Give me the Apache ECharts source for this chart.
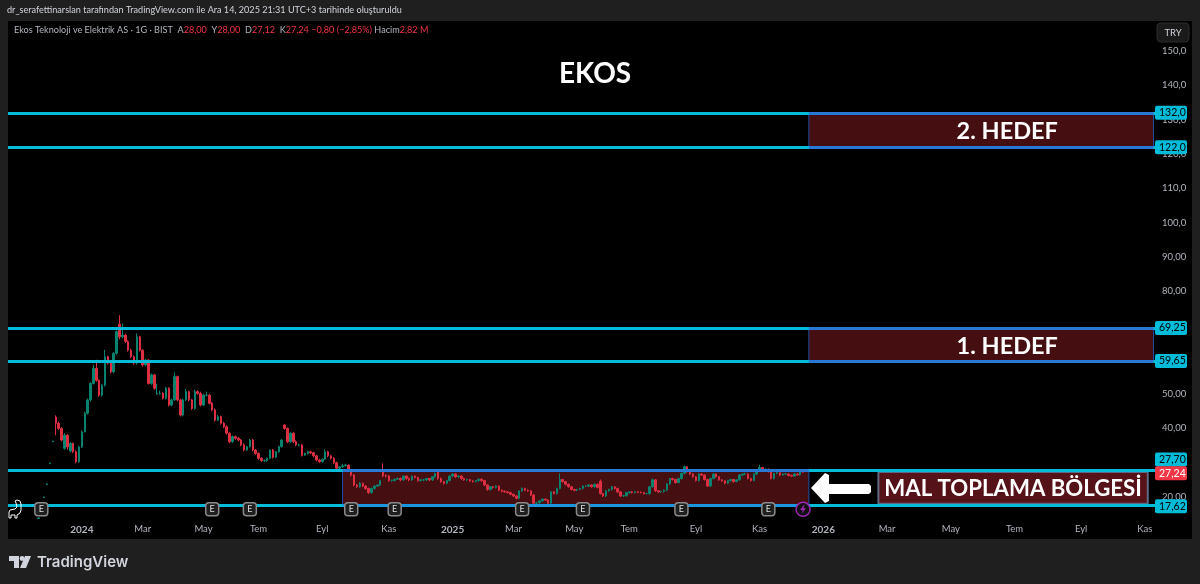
<!DOCTYPE html>
<html><head><meta charset="utf-8">
<style>html,body{margin:0;padding:0;background:#1f1f1f}#c{width:1200px;height:584px}</style>
<script src="https://cdn.jsdelivr.net/npm/echarts@6/dist/echarts.min.js"></script>
</head><body><div id="c"></div>
<script>
const slotCount = 396, firstBarSlot = 10;
const closes = [13.9,17.7,20,23.8,29.9,36.3,
41.5,40,36.6,38,34.6,35.6,33.2,30.3,34.6,39,
44.4,48.3,53.1,57.5,54,49.7,52.6,60.9,59,56.5,
61.9,68.2,66.7,67.2,65.3,62.8,60.9,59,66.7,62.8,
58.5,59.9,53.1,55.6,51.7,50.2,50.2,48.8,51.7,46.8,
48.3,55.1,48.3,43.9,48.3,50.7,48.3,45.8,50.7,50.2,
46.8,49.7,49.7,47.3,45.4,42.4,43.4,41.5,40.5,38.6,
36.1,37.6,37.1,36.6,35.2,33.7,34.7,36.6,33.7,32.7,
31.3,30.6,30.6,31.3,33.7,31.6,33.2,34.7,36.6,40,
36.1,38.6,36.1,35.2,35.2,32.2,32.7,33.2,32.9,32,
30.8,30.3,31,33.2,32,31.3,30,28.4,28.8,29.1,
29.3,27.9,26.4,23.5,23,24,23.2,22.5,21.3,22.5,
23.2,23.5,24.8,26.2,26.1,24.8,24.8,25.2,25.4,25,
26.1,25.4,25,26.1,25.7,24.8,25,25,25.4,25,
25.9,26.9,25.4,24.5,24,24.8,26.1,26.7,25.9,26.1,
25.4,25,25.1,24.7,24.5,24.8,25.2,24.8,23.5,22.2,
23,22.8,23.2,22,21.7,21.5,21.3,20.8,20.3,19.6,
21.8,22.5,22,21.8,20.6,18.2,18.3,18.9,19.4,19.1,
18.2,21.5,21,22.5,25.1,24.5,23.7,23,22.2,22,
22.2,22.5,23.2,23.2,23.5,23,23.7,22.8,21,20.3,
21.8,22.2,23,22.5,21.5,20.3,20.4,21.3,21.5,21.3,
21.5,21.4,21.3,21,21,23,25,21.8,21.5,21.6,
22,23.8,25.4,25.1,24.2,25.4,26.9,28.8,27.4,26.7,
25.9,24.8,26.7,26.4,25.1,23.2,25.4,26.7,25.9,25,
24.7,24,24.8,25.1,24.5,25,26.4,26.7,26.7,25.4,
24.8,26.7,27.9,28.6,27.9,28.1,27.4,25.4,26.9,27.1,
26.4,26.7,26.7,26.3,26.1,26.7,26.5,27.6,27.24];
const opens = [13.7,17.5,19.8,23.6,29.7,36.1,
43.3,41.5,40,34.2,38,33.4,35.6,33.2,30.3,34.6,
39,44.4,48.3,53.1,57.5,54,49.7,52.6,60.9,59,
56.5,61.9,70.4,66.7,67.2,65.3,62.8,60.9,59,66.7,
62.8,58.5,59.9,53.1,55.6,50,50.2,50.2,48.8,51.7,
46.8,48.3,55.1,48.3,43.9,48.3,50.7,48.3,45.8,50.7,
50.2,46.8,49.7,49.7,47.3,45.4,42.4,43.4,41.5,40.5,
38.6,36.1,37.6,37.1,36.6,35.2,33.7,34.7,36.6,33.7,
32.7,31.3,30.6,30.6,31.3,33.7,31.6,33.2,34.7,41,
40,36.1,38.6,36.1,35.2,35.2,32.2,32.7,33.2,32.9,
32,30.8,30.3,31,33.2,32,31.3,30,28.4,28.8,
29.1,29.3,27.9,26.4,23.5,23,24,23.2,22.5,21.3,
22.5,23.2,23.5,27.3,26.2,26.1,24.8,24.8,25.2,25.4,
25,26.1,25.4,25,26.1,25.7,24.8,25,25,25.4,
25,25.9,27.4,25.4,24.5,24,24.8,26.1,26.7,25.9,
26.1,25.4,25,25.1,24.7,24.5,24.8,25.2,24.8,23.5,
22.2,23,22.8,23.2,22,21.7,21.5,21.3,20.8,20.3,
19.6,21.8,22.5,22,21.8,20.6,18.2,18.3,18.9,19.4,
19.1,18.2,21.5,21,22.5,25.1,24.5,23.7,23,22.2,
22,22.2,22.5,23.2,23.2,23.5,23,23.7,24.6,21,
20.3,21.8,22.2,23,22.5,21.5,20.3,20.4,21.3,21.5,
21.3,21.5,21.4,21.3,21,21,23,25,21.8,21.5,
21.6,22,23.8,25.4,25.1,24.2,25.4,26.9,28.8,27.4,
26.7,25.9,24.8,26.7,26.4,25.1,23.2,25.4,26.7,25.9,
25,24.7,24,24.8,25.1,24.5,25,26.4,26.7,26.7,
25.4,24.8,26.7,27.9,28.6,27.9,28.1,27.4,25.4,26.9,
27.1,26.4,26.7,26.7,26.3,26.1,26.7,26.5,28];
const highs = [14,17.8,20.1,23.9,30,36.4,
43.8,42,40.3,38.6,38.3,36,35.9,33.6,34.9,39.4,
44.8,48.7,53.4,58.5,60,54.3,52.9,62.9,61.2,59.4,
62.2,68.6,73,70.6,67.6,65.7,63.2,61.3,67.7,67,
63.1,60.3,60.2,56,55.9,53,51,50.6,52.1,52,
48.7,56.3,55.4,48.6,48.7,51.5,51,48.6,51.3,51.1,
50.7,50,50.7,50.1,47.7,45.8,43.9,43.7,41.9,40.9,
38.9,37.9,37.9,37.5,36.9,35.6,34.9,36.9,36.9,34,
33,31.6,31,31.5,33.9,34,33.4,34.9,36.9,41.2,
40.3,38.9,38.9,36.5,35.5,35.4,32.9,33.5,33.5,33.2,
32.3,31.1,31.3,33.9,33.5,32.3,31.6,30.3,28.9,29.6,
29.7,29.5,28.2,26.7,23.8,24.4,24.2,23.5,22.7,22.7,
23.4,23.7,24.9,29.8,26.6,26.4,25.1,25.4,25.7,25.7,
26.3,26.3,25.7,26.3,26.3,25.9,25.2,25.3,25.6,25.6,
26.1,27.1,27.9,25.7,24.7,24.9,26.3,26.9,26.9,26.3,
26.3,25.6,25.3,25.3,24.9,24.9,25.4,25.4,25,23.7,
23.2,23.2,23.4,23.4,22.2,21.9,21.7,21.5,21,20.5,
21.9,22.8,22.7,22.2,22,20.8,18.6,19,19.6,19.6,
19.3,21.7,21.7,22.7,26.9,25.3,24.7,23.9,23.2,22.4,
22.4,22.7,23.4,23.4,23.7,23.7,23.9,23.9,25.1,21.2,
22,22.4,23.2,23.2,22.7,21.7,20.6,21.5,21.7,21.7,
21.7,21.7,21.6,21.5,21.2,23.2,25.4,25.2,22,21.8,
22.2,24,25.6,25.6,25.3,25.6,27.1,29.2,29,27.6,
26.9,26.1,26.9,26.9,26.6,25.3,25.6,26.9,26.9,26.1,
25.2,24.9,25,25.3,25.3,25.2,26.6,26.9,27.1,26.9,
25.6,26.9,28.1,29.4,28.8,28.3,28.3,27.6,27.1,27.4,
27.3,26.9,26.9,26.9,26.5,26.9,26.9,28,28];
const lows = [13.6,17.4,19.7,23.5,29.6,36,
38,39.6,36.2,33.8,33.8,33,32.8,29.8,30,34.3,
38.8,44,47.8,52.8,53.6,49.2,49.3,52.2,58.6,56,
56.1,61.5,66,66.3,64.9,62.4,60.5,58.6,58.6,62.4,
58,58.1,52.8,52.7,51.3,49.8,49.8,48.4,48.4,46.4,
46.5,48,47.9,43.5,43.5,48,47.9,45.4,45.4,49.8,
46.4,46.5,49.3,47,45,42,42.1,41.1,40.1,38.2,
35.7,35.8,36.7,36.2,34.8,33.3,33.4,34.4,33.3,32.3,
30.9,30.2,30.2,30.3,31,31.2,31.3,32.9,34.4,39.6,
35.7,35.8,35.7,34.8,34.8,31.8,32,32.4,32.5,31.6,
30.4,29.9,30,30.8,31.6,30.9,29.6,28,28.1,28.5,
28.9,27.5,26,23.1,22.6,22.7,22.9,22.1,20.9,21,
22.2,22.9,23.2,25.8,25.7,24.4,24.4,24.5,25,24.6,
24.7,25,24.6,24.7,25.4,24.4,24.5,24.6,24.7,24.6,
24.7,25.6,25,24.1,23.6,23.7,24.5,25.8,25.5,25.6,
25,24.7,24.7,24.4,24.2,24.2,24.5,24.4,23.2,21.8,
21.9,22.5,22.5,21.7,21.3,21.2,21,20.5,20,19.3,
19.3,21.5,21.7,21.5,20.3,17.9,17.9,18,18.6,18.8,
17.9,17.9,20.7,20.7,22.2,24.2,23.4,22.7,21.9,21.6,
21.7,22,22.2,22.9,22.9,22.7,22.7,22.5,20.7,20,
20,21.5,21.9,22.2,21.2,20,20,20.1,21,21,
21,21.1,21,20.7,20.7,20.7,22.7,21.5,21.2,21.2,
21.3,21.7,23.5,24.8,23.9,24,25.1,26.6,27.1,26.4,
25.6,24.5,24.5,26.1,24.8,22.9,23,25.1,25.6,24.7,
24.4,23.7,23.8,24.5,24.2,24.3,24.8,26.1,26.4,25.1,
24.5,24.6,26.4,27.6,27.6,27.7,27.1,25.1,25.1,26.6,
26.1,26.2,26.4,26,25.8,25.9,26.2,26.2,27.12];

const tickLabels = ['2024','Mar','May','Tem','Eyl','Kas','2025','Mar','May','Tem','Eyl','Kas','2026','Mar','May','Tem','Eyl','Kas'];
const tickSlots = [25,46,67,86,108,131,153,174,195,214,237,259,281,303,325,347,370,392];
const levelValues = [132,122,69.25,59.65,27.7,17.62];
const levelTexts = ['132,0','122,0','69,25','59,65','27,70','17,62'];
const lastPrice = 27.24, lastPriceText = '27,24';
const eventSlots = [11,70,83,118,133,177,198,232,262];
const eventLevel = 16.4, boltSlot = 274;

const FONT = 'Lato, "Noto Sans", sans-serif';
const CYAN = '#00bcd9', BLUE = '#2a78d6', ZONE_BLUE = '#1a96e0', FILL = '#450e10';
const UP = '#08836f', DOWN = '#dc2f42';
const categories = Array.from({length: slotCount}, (_, i) => 's' + i);
const candleData = categories.map((_, i) => {
  const k = i - firstBarSlot;
  return k >= 0 && k < closes.length ? [opens[k], closes[k], lows[k], highs[k]] : ['-','-','-','-'];
});
const tickMap = {};
tickSlots.forEach((s, i) => tickMap[categories[s]] = tickLabels[i]);
const zoneLabel = size => ({show: true, position: 'inside', color: '#fff', fontFamily: FONT, fontWeight: 'bold', fontSize: size});
const area = (name, s1, s2, hi, lo, lab) => [
  {name, coord: [categories[s1], hi], label: lab},
  {coord: [categories[s2], lo]}
];
const tagLabel = (text, bg, fg, dy) => ({
  show: true, position: 'end', distance: 0, formatter: text,
  backgroundColor: bg, color: fg, fontFamily: FONT, fontSize: 10.5,
  padding: [2, 4, 1, 4], borderRadius: 2, width: 24, align: 'left', offset: [0, dy]
});
const segment = (s1, s2, v, color) => [{coord: [categories[s1], v], lineStyle: color ? {color} : undefined}, {coord: [categories[s2], v]}];

const chart = echarts.init(document.getElementById('c'));
chart.setOption({
  animation: false,
  backgroundColor: '#1f1f1f',
  grid: {left: 8, right: 45, top: 16.8, height: 514.5, containLabel: false},
  xAxis: {
    type: 'category', data: categories, boundaryGap: true,
    axisLine: {show: false}, axisTick: {show: false}, splitLine: {show: false},
    axisLabel: {
      interval: (i, v) => v in tickMap, margin: -7, fontFamily: FONT, fontSize: 9.5, color: '#b2b5be', hideOverlap: false,
      formatter: v => { const t = tickMap[v] || ''; return /^\d/.test(t) ? '{b|' + t + '}' : t; },
      rich: {b: {fontWeight: 'bold', fontSize: 10, fontFamily: FONT, color: '#b2b5be'}}
    }
  },
  yAxis: {
    type: 'value', position: 'right', min: 10, max: 160, interval: 10, scale: false,
    axisLine: {show: false}, axisTick: {show: false}, splitLine: {show: false},
    axisLabel: {
      margin: 7, fontFamily: FONT, fontSize: 9.5, color: '#b2b5be',
      formatter: v => (v <= 10 || v >= 160) ? '' : (v >= 100 ? v.toFixed(1) : v.toFixed(2)).replace('.', ',')
    }
  },
  series: [
    {
      type: 'line', data: [], z: 2, silent: true,
      markArea: {
        silent: true, z: 2,
        itemStyle: {color: FILL, borderColor: '#1f4fa8', borderWidth: 1},
        label: {show: false},
        data: [
          area('2. HEDEF', 276, 395, 132, 122, Object.assign(zoneLabel(23.5), {offset: [26, 1.5]})),
          area('1. HEDEF', 276, 395, 69.25, 59.65, Object.assign(zoneLabel(23.5), {offset: [26, 1.5]})),
          area('', 115, 276, 27.7, 17.62, {show: false})
        ]
      }
    },
    {
      type: 'line', data: [], z: 2, silent: true,
      markArea: {
        silent: true, z: 2,
        itemStyle: {color: '#551218', borderColor: '#5f6a80', borderWidth: 2},
        data: [area('MAL TOPLAMA BÖLGESİ', 300, 393, 27.3, 18, Object.assign(zoneLabel(22.2), {offset: [0, 0.5]}))]
      }
    },
    {
      type: 'candlestick', z: 3, data: candleData, barWidth: 2, silent: true, large: false, progressive: 0,
      itemStyle: {color: UP, color0: DOWN, borderColor: UP, borderColor0: DOWN, borderWidth: 1}
    },
    {
      type: 'line', data: [], z: 5, silent: true,
      markLine: {
        silent: true, symbol: 'none', z: 5, animation: false,
        lineStyle: {color: CYAN, width: 3, type: 'solid'},
        data: levelValues.map((v, i) => ({
          yAxis: v, label: tagLabel(levelTexts[i], CYAN, '#000', v === 27.7 ? -11 : (v === 17.62 ? 1 : 0))
        })).concat([{
          yAxis: lastPrice, lineStyle: {color: 'rgba(0,0,0,0)', width: 0}, label: tagLabel(lastPriceText, '#f23645', '#fff', 1)
        }])
      }
    },
    {
      type: 'line', data: [], z: 6, silent: true,
      markLine: {
        silent: true, symbol: 'none', z: 6, animation: false,
        label: {show: false},
        lineStyle: {color: BLUE, width: 3, type: 'solid'},
        data: [
          segment(276, 395, 132), segment(276, 395, 122),
          segment(276, 395, 69.25), segment(276, 395, 59.65),
          segment(115, 276, 27.7), segment(115, 276, 17.62, ZONE_BLUE)
        ]
      }
    },
    {
      type: 'scatter', z: 7, silent: true, symbol: 'roundRect', symbolSize: 13,
      data: eventSlots.map(s => [categories[s], eventLevel]),
      itemStyle: {color: '#1f1f1f', borderColor: '#8a8a8a', borderWidth: 1.5, opacity: 1},
      label: {show: true, position: 'inside', formatter: 'E', color: '#dddddd', fontSize: 9, fontFamily: FONT}
    },
    {
      type: 'scatter', z: 7, silent: true, symbol: 'circle', symbolSize: 14,
      data: [[categories[boltSlot], eventLevel]],
      itemStyle: {color: '#101010', borderColor: '#9c27b0', borderWidth: 1.5, opacity: 1}
    },
    {
      type: 'scatter', z: 8, silent: true, symbol: 'path://M6 0 L1 7 L4.5 7 L3 12 L9 4.5 L5.5 4.5 L7 0 Z', symbolSize: [6, 9],
      data: [[categories[boltSlot], eventLevel]],
      itemStyle: {color: '#9c27b0', opacity: 1}
    }
  ],
  graphic: [
    {type: 'rect', z: -1, shape: {x: 8, y: 21, width: 1184, height: 518}, style: {fill: '#000'}},
    {type: 'text', z: 100, x: 7, y: 6, style: {text: 'dr_serafettinarslan tarafından TradingView.com ile Ara 14, 2025 21:31 UTC+3 tarihinde oluşturuldu', fill: '#d1d4dc', font: '9.1px ' + FONT}},
    {type: 'text', z: 100, x: 14, y: 26, style: {
      text: '{g|Ekos Teknoloji ve Elektrik AS · 1G · BIST  A}{r|28,00}{g|  Y}{r|28,00}{g|  D}{r|27,12}{g|  K}{r|27,24}{r| −0,80 (−2,85%)}{g| Hacim}{r|2,82 M}',
      rich: {g: {fill: '#b2b5be', font: '9.1px ' + FONT}, r: {fill: '#f23645', font: '9.1px ' + FONT}}
    }},
    {type: 'text', z: 100, x: 595, y: 74, style: {text: 'EKOS', fill: '#fff', font: 'bold 28px ' + FONT, align: 'center', verticalAlign: 'middle'}},
    {type: 'rect', z: 100, shape: {x: 1157, y: 23, width: 32, height: 19, r: 4}, style: {fill: '#1a1a1a', stroke: '#2c2c2c'}},
    {type: 'text', z: 101, x: 1173, y: 32.5, style: {text: 'TRY', fill: '#d1d4dc', font: '9.5px ' + FONT, align: 'center', verticalAlign: 'middle'}},
    {type: 'polygon', z: 100, shape: {points: [[811,488],[825,473],[829,475],[829,484],[869,484],[871,486],[871,492],[869,494],[829,494],[829,501],[825,503]]}, style: {fill: '#fff'}},
    {type: 'polygon', z: 100, shape: {points: [[15,501],[17,500],[20,501],[21,504],[21,510],[20,513],[17,515],[17,518],[15,518],[15,515],[11,515],[11,518],[9,518],[9,512],[10,510],[15,509],[17,507],[16,503]]}, style: {fill: 'none', stroke: '#fff', lineWidth: 1}},
    {type: 'polygon', z: 100, shape: {points: [[9,556],[19,556],[19,568],[14,568],[14,561],[9,561]]}, style: {fill: '#d1d4dc'}},
    {type: 'circle', z: 100, shape: {cx: 22, cy: 558.5, r: 2.4}, style: {fill: '#d1d4dc'}},
    {type: 'polygon', z: 100, shape: {points: [[25,556],[31,556],[26,568],[20,568]]}, style: {fill: '#d1d4dc'}},
    {type: 'text', z: 100, x: 37, y: 562, style: {text: 'TradingView', fill: '#d1d4dc', font: '600 15px Inter, ' + FONT, verticalAlign: 'middle'}}
  ]
});
</script></body></html>
